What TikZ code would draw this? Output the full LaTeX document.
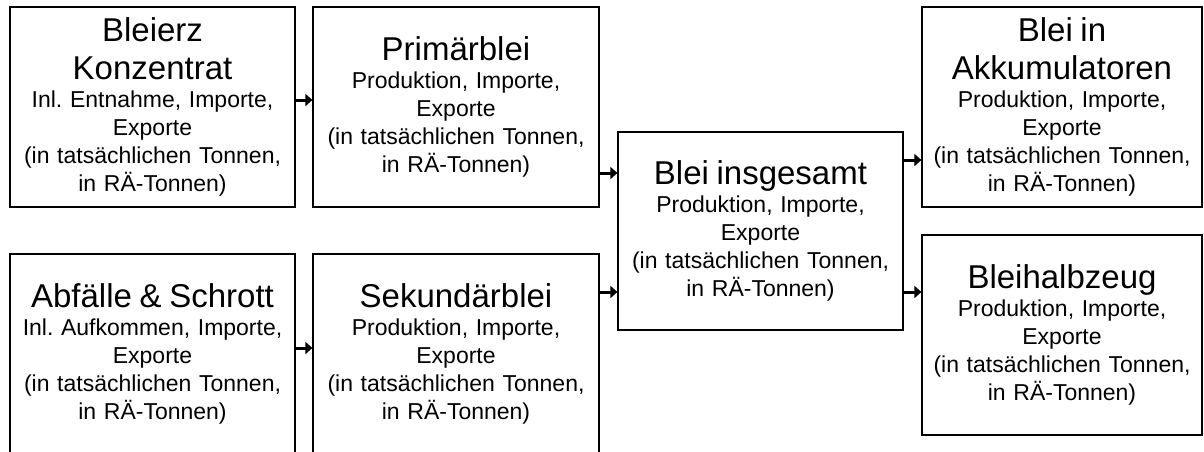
\documentclass[tikz,border=0pt]{standalone}
\usepackage{fontspec}
\setmainfont{Liberation Sans}
\usetikzlibrary{arrows.meta, positioning}

\newcommand{\titel}[1]{{\fontsize{33}{38}\selectfont #1\par}}

\begin{document}
\frenchspacing
\begin{tikzpicture}[x=1pt, y=-1pt,
	kasten/.style={draw, line width=1.2pt, rectangle, minimum width=285pt, minimum height=200pt,
		text width=280pt, align=center, inner sep=2pt, font=\fontsize{23}{28}\selectfont},
	pfeil/.style={line width=3pt, -{Triangle[length=7pt, width=12pt]}}]

	\useasboundingbox (0,0) rectangle (1204,451);

	%Rohstoffe
	\node[kasten] (erz) at (152.5, 107) {\titel{Bleierz\\Konzentrat}Inl. Entnahme, Importe,\\Exporte\\(in tatsächlichen Tonnen,\\in RÄ-Tonnen)};
	\node[kasten] (abf) at (152.5, 354) {\titel{Abfälle \& Schrott}Inl. Aufkommen, Importe,\\Exporte\\(in tatsächlichen Tonnen,\\in RÄ-Tonnen)};

	%Blei
	\node[kasten, minimum width=286pt] (prim) at (456, 107) {\titel{Primärblei}Produktion, Importe,\\Exporte\\(in tatsächlichen Tonnen,\\in RÄ-Tonnen)};
	\node[kasten, minimum width=286pt] (sek) at (456, 354) {\titel{Sekundärblei}Produktion, Importe,\\Exporte\\(in tatsächlichen Tonnen,\\in RÄ-Tonnen)};
	\node[kasten, minimum height=198pt] (ges) at (760.5, 231) {\titel{Blei insgesamt}Produktion, Importe,\\Exporte\\(in tatsächlichen Tonnen,\\in RÄ-Tonnen)};

	%Produkte
	\node[kasten, minimum width=280pt, text width=276pt] (akku) at (1062, 107) {\titel{Blei in\\Akkumulatoren}Produktion, Importe,\\Exporte\\(in tatsächlichen Tonnen,\\in RÄ-Tonnen)};
	\node[kasten, minimum width=280pt, text width=276pt] (halb) at (1062, 335) {\titel{Bleihalbzeug}Produktion, Importe,\\Exporte\\(in tatsächlichen Tonnen,\\in RÄ-Tonnen)};

	%Pfeile
	\draw[pfeil] (erz.east |- 0,100) -- (prim.west |- 0,100);
	\draw[pfeil] (abf.east |- 0,348) -- (sek.west |- 0,348);
	\draw[pfeil] (prim.east |- 0,173) -- (ges.west |- 0,173);
	\draw[pfeil] (sek.east |- 0,292) -- (ges.west |- 0,292);
	\draw[pfeil] (ges.east |- 0,160) -- (akku.west |- 0,160);
	\draw[pfeil] (ges.east |- 0,292) -- (halb.west |- 0,292);

\end{tikzpicture}
\end{document}
